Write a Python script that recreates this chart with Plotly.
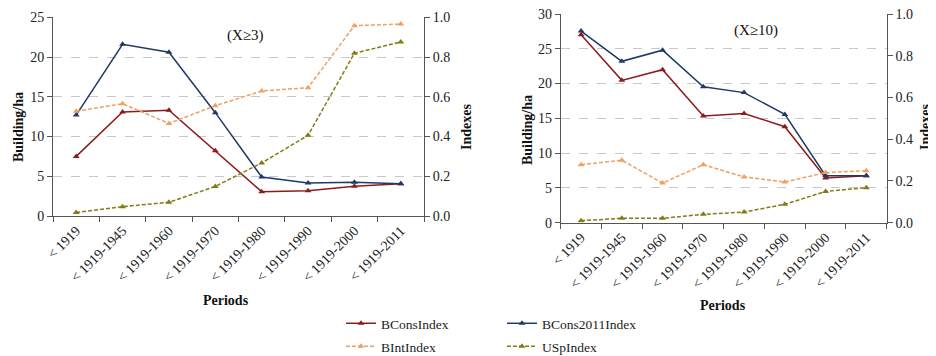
import plotly.graph_objects as go

W, H = 936, 356
OFF = 8  # page body margin offset in the viewer

periods = ["< 1919", "< 1919-1945", "< 1919-1960", "< 1919-1970",
           "< 1919-1980", "< 1919-1990", "< 1919-2000", "< 1919-2011"]

# Left panel (X>=3)
a_bcons = [7.5, 13.1, 13.3, 8.2, 3.06, 3.19, 3.73, 4.07]
a_bcons2011 = [12.7, 21.6, 20.6, 13.0, 4.9, 4.15, 4.24, 4.07]
a_bint = [0.527, 0.565, 0.466, 0.555, 0.629, 0.646, 0.958, 0.966]
a_usp = [0.018, 0.047, 0.069, 0.149, 0.267, 0.406, 0.819, 0.876]

# Right panel (X>=10)
b_bcons = [27.0, 20.46, 22.0, 15.33, 15.7, 13.8, 6.42, 6.76]
b_bcons2011 = [27.55, 23.2, 24.8, 19.55, 18.7, 15.57, 6.76, 6.76]
b_bint = [0.278, 0.299, 0.19, 0.278, 0.219, 0.195, 0.24, 0.249]
b_usp = [0.0096, 0.021, 0.021, 0.04, 0.051, 0.088, 0.15, 0.168]

names = ["BConsIndex", "BCons2011Index", "BIntIndex", "USpIndex"]
colors = ["#8E1B1B", "#1F3A68", "#F0A060", "#857A14"]
dashes = ["solid", "solid", "4px,2px", "4px,2px"]
FONT = "Liberation Serif"

fig = go.Figure()

def px_x(p):
    return (p - OFF) / W

def px_y(p):
    return 1 - (p - OFF) / H

panels = [
    dict(data=[a_bcons, a_bcons2011, a_bint, a_usp], xa="x", ya="y", ya2="y2", show=True),
    dict(data=[b_bcons, b_bcons2011, b_bint, b_usp], xa="x2", ya="y3", ya2="y4", show=False),
]
for p in panels:
    for i in range(4):
        yax = p["ya"] if i < 2 else p["ya2"]
        fig.add_trace(go.Scatter(
            x=periods, y=p["data"][i], name=names[i], mode="lines+markers",
            line=dict(color=colors[i], width=1.5, dash=dashes[i]),
            marker=dict(symbol="triangle-up", size=6, color=colors[i]),
            xaxis=p["xa"], yaxis=yax, showlegend=p["show"],
            legend="legend" if i < 2 else "legend2",
        ))

tickfont = dict(family=FONT, size=14, color="#222")
axcol = "#555"

def xaxis_cfg(dom, anchor):
    return dict(domain=dom, anchor=anchor, type="category", range=[-0.5, 7.5],
                tickangle=-45, tickfont=tickfont, ticks="outside", tickson="boundaries",
                ticklen=5, tickcolor=axcol, showline=True, linecolor=axcol, linewidth=1,
                showgrid=False, zeroline=False, automargin=False, ticklabeloverflow="allow")

def yleft_cfg(dom, anchor, rng, dt):
    return dict(domain=dom, anchor=anchor, range=rng, dtick=dt, tickfont=tickfont,
                ticks="outside", ticklen=5, tickcolor=axcol, showline=True, linecolor=axcol,
                linewidth=1, showgrid=True, gridcolor="#c8c8c8", griddash="dash",
                gridwidth=1, zeroline=False, automargin=False, ticklabeloverflow="allow")

def yright_cfg(anchor, over):
    return dict(overlaying=over, anchor=anchor, side="right", range=[0, 1], dtick=0.2,
                tickformat=".1f", tickfont=tickfont, ticks="outside", ticklen=5,
                tickcolor=axcol, showline=True, linecolor=axcol, linewidth=1,
                showgrid=False, zeroline=False, automargin=False, ticklabeloverflow="allow")

xd1 = [px_x(53), px_x(424)]
yd1 = [px_y(216), px_y(17.3)]
xd2 = [px_x(560.7), px_x(886.7)]
yd2 = [px_y(222.7), px_y(14)]

legfont = dict(family=FONT, size=13.5, color="#222")
fig.update_layout(
    width=W, height=H, margin=dict(l=0, r=0, t=0, b=0, autoexpand=False),
    paper_bgcolor="white", plot_bgcolor="white",
    font=dict(family=FONT, size=14, color="#222"),
    xaxis=xaxis_cfg(xd1, "y"),
    yaxis=yleft_cfg(yd1, "x", [0, 25], 5),
    yaxis2=yright_cfg("x", "y"),
    xaxis2=xaxis_cfg(xd2, "y3"),
    yaxis3=yleft_cfg(yd2, "x2", [0, 30], 5),
    yaxis4=yright_cfg("x2", "y3"),
    legend=dict(orientation="h", x=px_x(341), y=px_y(308), xanchor="left", yanchor="top",
                entrywidthmode="pixels", entrywidth=116, font=legfont,
                bgcolor="rgba(0,0,0,0)", tracegroupgap=0, itemwidth=30),
    legend2=dict(orientation="h", x=px_x(341), y=px_y(331), xanchor="left", yanchor="top",
                 entrywidthmode="pixels", entrywidth=116, font=legfont,
                 bgcolor="rgba(0,0,0,0)", tracegroupgap=0, itemwidth=30),
)

def ann(text, x, y, angle=0, bold=False, size=14):
    fig.add_annotation(text=f"<b>{text}</b>" if bold else text, x=px_x(x), y=px_y(y),
                       xref="paper", yref="paper", showarrow=False, textangle=angle,
                       font=dict(family=FONT, size=size, color="#111"),
                       xanchor="center", yanchor="middle")

ann("(X≥3)", 245, 35, size=15)
ann("(X≥10)", 756, 30, size=15)
ann("Building/ha", 18, 127, angle=-90, bold=True, size=14)
ann("Indexes", 466, 127, angle=-90, bold=True, size=14)
ann("Building/ha", 527, 130, angle=-90, bold=True, size=14)
ann("Indexes", 925, 127, angle=-90, bold=True, size=14)
ann("Periods", 226, 300, bold=True, size=14)
ann("Periods", 723, 305, bold=True, size=14)

fig.write_html("out.html")
